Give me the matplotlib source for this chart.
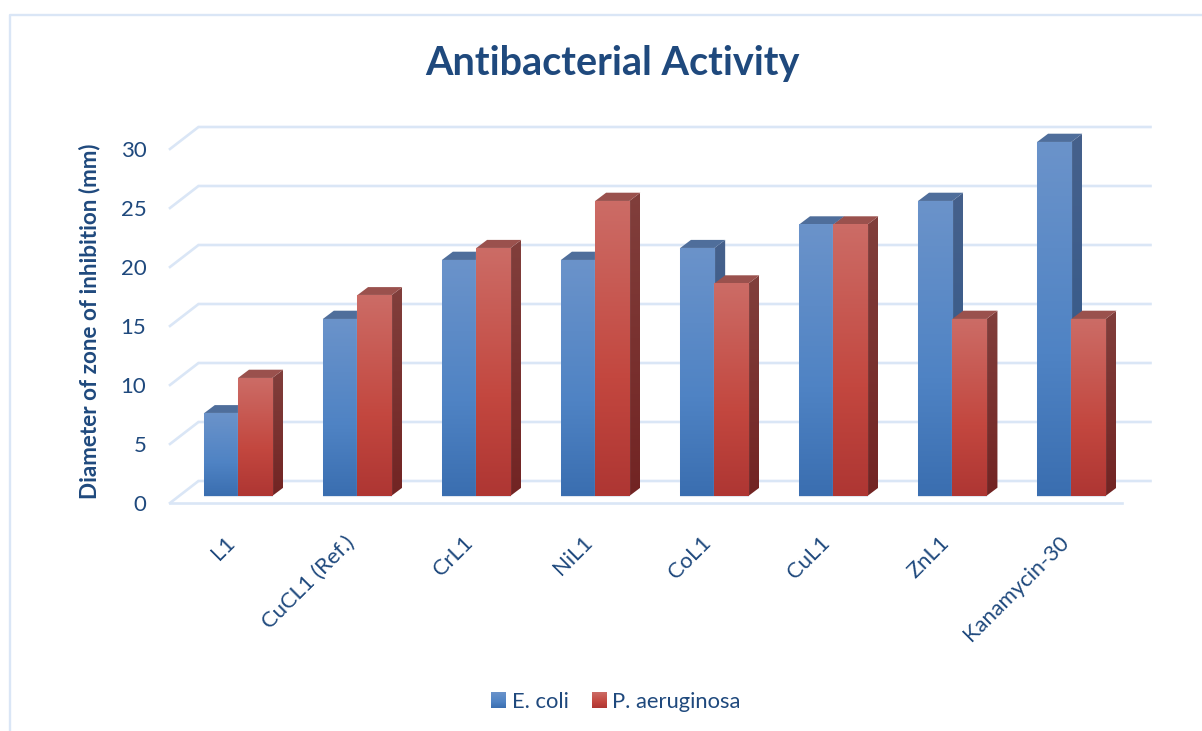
import matplotlib
matplotlib.use("Agg")
import numpy as np
import matplotlib.pyplot as plt
from matplotlib.colors import LinearSegmentedColormap
from matplotlib.patches import Polygon, Patch
from matplotlib.lines import Line2D
from matplotlib.image import BboxImage
from matplotlib.transforms import Bbox, TransformedBbox, Affine2D
from matplotlib.legend_handler import HandlerBase

categories = ["L1", "CuCL1 (Ref.)", "CrL1", "NiL1", "CoL1", "CuL1", "ZnL1", "Kanamycin-30"]
e_coli = [7, 15, 20, 20, 21, 23, 25, 30]
p_aeruginosa = [10, 17, 21, 25, 18, 23, 15, 15]
y_ticks = [0, 5, 10, 15, 20, 25, 30]
series_names = ["E. coli", "P. aeruginosa"]

plt.rcParams['font.family'] = ['Lato', 'DejaVu Sans']
W, H = 1202, 731
TXT = "#1f497d"
GRID = "#dae6f6"

PX_X = 119.04          # pixels per category
PX_Y = 11.8            # pixels per value unit
X0_PX, Y0_PX = 238.0, 503.0   # pixel of category 0 centre, value 0 on front floor edge
L_PX, R_PX, T_PX = 170.0, 1165.0, 100.0

fig = plt.figure(figsize=(W / 100, H / 100), dpi=100, facecolor="white")
ax = fig.add_axes([L_PX / W, (H - Y0_PX) / H, (R_PX - L_PX) / W, (Y0_PX - T_PX) / H])
ax.patch.set_alpha(0)

bar_w = 34.2 / PX_X
dep_x, dep_y = 11.0 / PX_X, 8.3 / PX_Y
lift = 7.0 / PX_Y                         # front of bars above floor edge
wall_x, wall_y = 28.5 / PX_X, 22.0 / PX_Y  # depth of chart floor
left = (L_PX - X0_PX) / PX_X
right = (1122.0 - X0_PX) / PX_X


def cmap(name, stops):
    return LinearSegmentedColormap.from_list(name, stops)


front_b = cmap("fb", [(0, "#6b93ca"), (0.6, "#4f83c4"), (1, "#3a6eb0")])
front_r = cmap("fr", [(0, "#cc6c66"), (0.6, "#c3473f"), (1, "#ae3633")])
side_b = cmap("sb", ["#46618c", "#2f5789"])
side_r = cmap("sr", ["#813f3c", "#722423"])
top_b, top_r = "#4f6e9b", "#9a514d"
grad = np.linspace(0, 1, 256).reshape(-1, 1)


def shaded(verts, cm, z):
    verts = np.asarray(verts)
    poly = Polygon(verts, closed=True, fc="none", ec="none", zorder=z)
    ax.add_patch(poly)
    im = ax.imshow(grad, cmap=cm, vmin=0, vmax=1, aspect="auto", zorder=z,
                   extent=[verts[:, 0].min(), verts[:, 0].max(),
                           verts[:, 1].min(), verts[:, 1].max()])
    im.set_clip_path(poly)


# gridlines: wall diagonal + back line
for t in y_ticks:
    ax.plot([left, left + wall_x, right + wall_x], [t, t + wall_y, t + wall_y],
            color=GRID, lw=1.9, solid_joinstyle="miter", clip_on=False, zorder=1)
ax.plot([left, right], [0, 0], color=GRID, lw=1.9, clip_on=False, zorder=1.5)

z = 3
xs = np.arange(len(categories))
for i in xs:
    for off, vals, fc, sc, tc in ((-0.5, e_coli, front_b, side_b, top_b),
                                  (0.5, p_aeruginosa, front_r, side_r, top_r)):
        v = vals[i]
        xc = i + off * bar_w
        x0, x1 = xc - bar_w / 2, xc + bar_w / 2
        y0, y1 = lift, lift + v
        shaded([(x1, y0), (x1 + dep_x, y0 + dep_y), (x1 + dep_x, y1 + dep_y), (x1, y1)], sc, z)
        ax.add_patch(Polygon([(x0, y1), (x0 + dep_x, y1 + dep_y), (x1 + dep_x, y1 + dep_y), (x1, y1)],
                             closed=True, fc=tc, ec="none", zorder=z))
        z += 1
        ax.bar(xc, v, bottom=lift, width=bar_w, color="none",
               edgecolor="#dfe6f0", lw=0.8, zorder=z)
        ax.imshow(grad, cmap=fc, vmin=0, vmax=1, aspect="auto", zorder=z,
                  extent=[x0, x1, y0, y1])
        z += 1

ax.set_xlim(left, (R_PX - X0_PX) / PX_X)
ax.set_ylim(0, (Y0_PX - T_PX) / PX_Y)

for s in ax.spines.values():
    s.set_visible(False)
ax.set_yticks(y_ticks)
ax.set_xticks(xs)
ax.set_xticklabels(categories, rotation=45, ha="right", va="top", rotation_mode="anchor",
                   fontsize=15.8, color=TXT)
ax.tick_params(axis="x", length=0, pad=21)
for lbl in ax.get_xticklabels():
    lbl.set_transform(lbl.get_transform() + Affine2D().translate(-13, 0))
ax.tick_params(axis="y", length=0, pad=17, labelsize=16, labelcolor=TXT)
ax.set_ylabel("Diameter of zone of inhibition (mm)", fontsize=16.2, fontweight="bold", color=TXT)
ax.yaxis.set_label_coords((100 - L_PX) / (R_PX - L_PX), (Y0_PX - 321) / (Y0_PX - T_PX))

fig.text(612 / W, 1 - 63.5 / H, "Antibacterial Activity", ha="center", va="center",
         fontsize=28.5, fontweight="bold", color=TXT)

# chart frame
fig.add_artist(Line2D([10 / W, 10 / W, 1], [0, 1 - 15 / H, 1 - 15 / H], color=GRID, lw=1.7))


class GradientSwatch(HandlerBase):
    def __init__(self, cm):
        super().__init__()
        self.cm = cm

    def create_artists(self, legend, orig_handle, xdescent, ydescent, width, height, fontsize, trans):
        box = Bbox([[-xdescent, -ydescent], [width - xdescent, height - ydescent]])
        im = BboxImage(TransformedBbox(box, trans), cmap=self.cm, norm=plt.Normalize(0, 1),
                       interpolation="bilinear", origin="upper")
        im.set_data(grad)
        return [im]


handles = [Patch(facecolor="#5484c2", edgecolor="none", label=series_names[0]),
           Patch(facecolor="#c1504b", edgecolor="none", label=series_names[1])]
fig.legend(handles, series_names, loc="center", bbox_to_anchor=(616 / W, 1 - 702 / H), ncol=2,
           frameon=False, fontsize=15.8, labelcolor=TXT, handlelength=0.68, handleheight=0.68,
           handletextpad=0.24, columnspacing=1.08, borderpad=0,
           handler_map={handles[0]: GradientSwatch(front_b), handles[1]: GradientSwatch(front_r)})

fig.savefig("out.png", dpi=100)
